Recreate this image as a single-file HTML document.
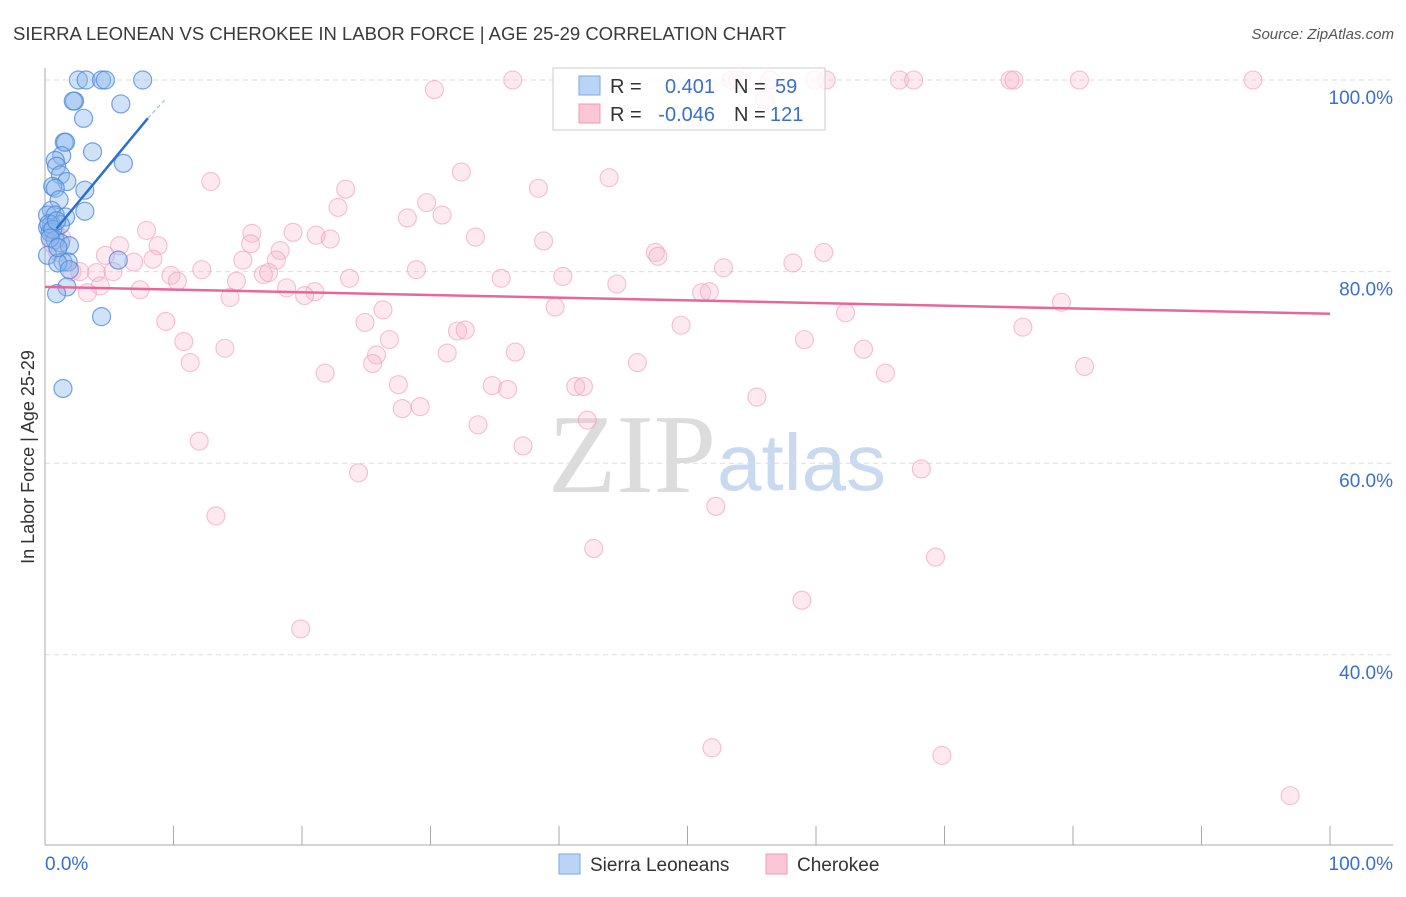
<!DOCTYPE html>
<html><head><meta charset="utf-8"><style>
body{margin:0;background:#fff;font-family:"Liberation Sans",sans-serif;}
svg text{font-family:"Liberation Sans",sans-serif;}
</style></head><body>
<svg id="chart" width="1406" height="892" xmlns="http://www.w3.org/2000/svg">
<text x="13" y="40" font-size="18.5" fill="#3a3a3a">SIERRA LEONEAN VS CHEROKEE IN LABOR FORCE | AGE 25-29 CORRELATION CHART</text>
<text x="1394" y="39" font-size="15" fill="#555" text-anchor="end" font-style="italic">Source: ZipAtlas.com</text>
<text x="716" y="492" font-size="112" text-anchor="end" fill="#dcdcdc" font-family="Liberation Serif" style="font-family:'Liberation Serif',serif">ZIP</text>
<text x="717" y="490" font-size="80" fill="#c9daf0">atlas</text>
<text transform="translate(34,457) rotate(-90)" font-size="18" fill="#333" text-anchor="middle">In Labor Force | Age 25-29</text>
<g id="grid"></g><g id="pts"></g><g id="trend"></g>
<g>
<rect x="553" y="68" width="272" height="62" fill="#fff" fill-opacity="0.8" stroke="#ccc"/>
<rect x="579" y="76" width="21" height="19" fill="#b9d4f5" stroke="#7aa8e8"/>
<rect x="579" y="104" width="21" height="19" fill="#fbc6d6" stroke="#f09ab5"/>
<text x="610" y="93" font-size="20" fill="#333">R =</text><text x="715" y="93" font-size="20" fill="#3a6fd0" text-anchor="end">0.401</text>
<text x="734" y="93" font-size="20" fill="#333">N =</text><text x="775" y="93" font-size="20" fill="#3a6fd0">59</text>
<text x="610" y="121" font-size="20" fill="#333">R =</text><text x="715" y="121" font-size="20" fill="#3a6fd0" text-anchor="end">-0.046</text>
<text x="734" y="121" font-size="20" fill="#333">N =</text><text x="770" y="121" font-size="20" fill="#3a6fd0">121</text>
</g>
<g>
<rect x="559" y="854" width="21" height="20" fill="#b9d4f5" stroke="#7aa8e8"/>
<text x="590" y="871" font-size="19" fill="#333">Sierra Leoneans</text>
<rect x="766" y="854" width="21" height="20" fill="#fbc6d6" stroke="#f09ab5"/>
<text x="797" y="871" font-size="19" fill="#333">Cherokee</text>
</g>
</svg>
<script>
const yTicks=[100,80,60,40];
const yTickLabels=["100.0%","80.0%","60.0%","40.0%"];
const xTickLabels=["0.0%","100.0%"];
const blueX=[2.6,3.2,4.4,4.7,7.6,2.3,2.2,5.9,3.0,1.5,1.6,3.7,1.3,6.1,0.8,0.9,1.2,1.7,0.6,0.8,3.1,1.1,0.5,3.1,0.2,0.8,1.6,0.5,1.2,0.2,0.4,0.8,1.2,1.9,0.2,5.7,1.4,1.8,1.0,1.9,1.7,0.9,4.4,1.4,0.3,0.6,0.9,0.4,1.0];
const blueY=[100,100,100,100,100,97.8,97.8,97.5,96.0,93.5,93.5,92.5,92.1,91.3,91.6,91.0,90.1,89.4,88.9,88.7,88.5,87.5,86.4,86.3,85.9,85.9,85.7,84.9,84.9,84.6,84.1,83.3,83.0,82.7,81.7,81.2,81.0,81.0,80.9,80.2,78.4,77.7,75.3,67.8,85.0,84.4,85.3,83.5,82.5];
const pinkX=[36.4,53.4,53.9,56.4,59.9,60.8,66.5,67.6,75.1,75.4,80.5,94.0,56.0,30.3,32.4,12.9,23.4,38.4,43.9,29.7,22.8,28.2,30.9,7.9,16.1,19.3,21.1,22.2,33.5,38.8,16.0,5.8,8.8,18.3,47.5,47.7,60.6,4.7,8.4,6.9,15.4,18.0,58.2,4.0,9.8,12.2,17.0,17.4,28.9,35.5,40.3,52.8,5.3,2.1,2.7,10.3,14.9,23.7,44.5,4.3,7.4,18.8,21.0,20.2,14.4,3.3,51.1,51.7,79.1,26.3,39.7,62.3,9.4,24.9,49.5,76.1,10.8,26.8,59.1,32.1,32.7,14.0,25.8,31.3,36.6,63.7,11.3,25.5,46.1,80.9,21.8,65.4,27.5,34.8,36.0,41.3,41.9,55.4,27.8,29.2,33.7,42.2,12.0,37.2,24.4,68.2,52.2,13.3,69.3,42.7,58.9,19.9,51.9,69.8,96.9,0.5,1.0,0.8,1.3];
const pinkY=[100,100,100,100,100,100,100,100,100,100,100,100,97.9,99.0,90.4,89.4,88.6,88.7,89.8,87.2,86.7,85.6,85.9,84.3,84.0,84.1,83.8,83.4,83.6,83.2,82.9,82.7,82.7,82.2,82.0,81.6,82.0,81.7,81.3,81.0,81.2,81.2,80.9,79.9,79.6,80.2,79.7,79.9,80.2,79.3,79.5,80.4,80.0,80.0,80.0,79.0,79.0,79.3,78.7,78.5,78.1,78.3,77.9,77.5,77.3,77.8,77.8,77.9,76.8,76.0,76.3,75.7,74.8,74.7,74.4,74.2,72.7,72.9,72.9,73.8,73.9,72.0,71.3,71.5,71.6,71.9,70.5,70.4,70.5,70.1,69.4,69.4,68.2,68.1,67.7,68.0,68.0,66.9,65.7,65.9,64.0,64.5,62.3,61.8,59.0,59.4,55.5,54.5,50.2,51.1,45.7,42.7,30.3,29.5,25.3,83.0,82.0,84.0,83.5];
const blueTrend=[[0.9,84.5],[8.0,96.0]];
const blueTrendExt=[[8.0,96.0],[9.3,97.9]];
const pinkTrend=[[0,78.4],[100,75.6]];
const NS="http://www.w3.org/2000/svg";
const sx=v=>45+v*12.85;
const sy=v=>80+(100-v)*9.58;
function mk(tag,attrs,parent){const e=document.createElementNS(NS,tag);for(const k in attrs)e.setAttribute(k,attrs[k]);document.getElementById(parent).appendChild(e);return e;}
yTicks.forEach((t,i)=>{
 const g=mk('line',{x1:45,x2:1393,y1:sy(t),y2:sy(t),stroke:'#ddd','stroke-dasharray':'5,4'},'grid');
 
 
 const l=mk('text',{x:1393,y:sy(t)+24,'font-size':19,fill:'#3a6fd0','text-anchor':'end'},'grid');
 l.textContent=yTickLabels[i];
 
 
});
const ax=mk('line',{x1:45,x2:45,y1:68,y2:845,stroke:'#aaa'},'grid');


const bx=mk('line',{x1:45,x2:1393,y1:845,y2:845,stroke:'#aaa'},'grid');


for(let i=0;i<=10;i++){const t=mk('line',{x1:sx(i*10),x2:sx(i*10),y1:826,y2:845,stroke:'#aaa'},'grid');
 
 }
[[0,'start',45],[1,'end',1393]].forEach(([i,a,x])=>{const l=mk('text',{x:x,y:870,'font-size':19,fill:'#3a6fd0','text-anchor':a},'grid');l.textContent=xTickLabels[i];
 
 });
pinkX.forEach((x,i)=>{const c=mk('circle',{cx:sx(x),cy:sy(pinkY[i]),r:9,fill:'#f9b5ca','fill-opacity':0.3,stroke:'#ee9ab6','stroke-opacity':0.6,'stroke-width':1.1},'pts');
 
 });
blueX.forEach((x,i)=>{const c=mk('circle',{cx:sx(x),cy:sy(blueY[i]),r:9,fill:'#8ab6ec','fill-opacity':0.4,stroke:'#4a86dc','stroke-opacity':0.75,'stroke-width':1.2},'pts');
 
 });
const pt=mk('line',{x1:sx(pinkTrend[0][0]),y1:sy(pinkTrend[0][1]),x2:sx(pinkTrend[1][0]),y2:sy(pinkTrend[1][1]),stroke:'#e8679a','stroke-width':2.5},'trend');


const bt=mk('line',{x1:sx(blueTrend[0][0]),y1:sy(blueTrend[0][1]),x2:sx(blueTrend[1][0]),y2:sy(blueTrend[1][1]),stroke:'#2a6fd6','stroke-width':2.5},'trend');


const be=mk('line',{x1:sx(blueTrendExt[0][0]),y1:sy(blueTrendExt[0][1]),x2:sx(blueTrendExt[1][0]),y2:sy(blueTrendExt[1][1]),stroke:'#9bbbe8','stroke-width':1.2,'stroke-dasharray':'4,3'},'trend');


</script>
</body></html>
